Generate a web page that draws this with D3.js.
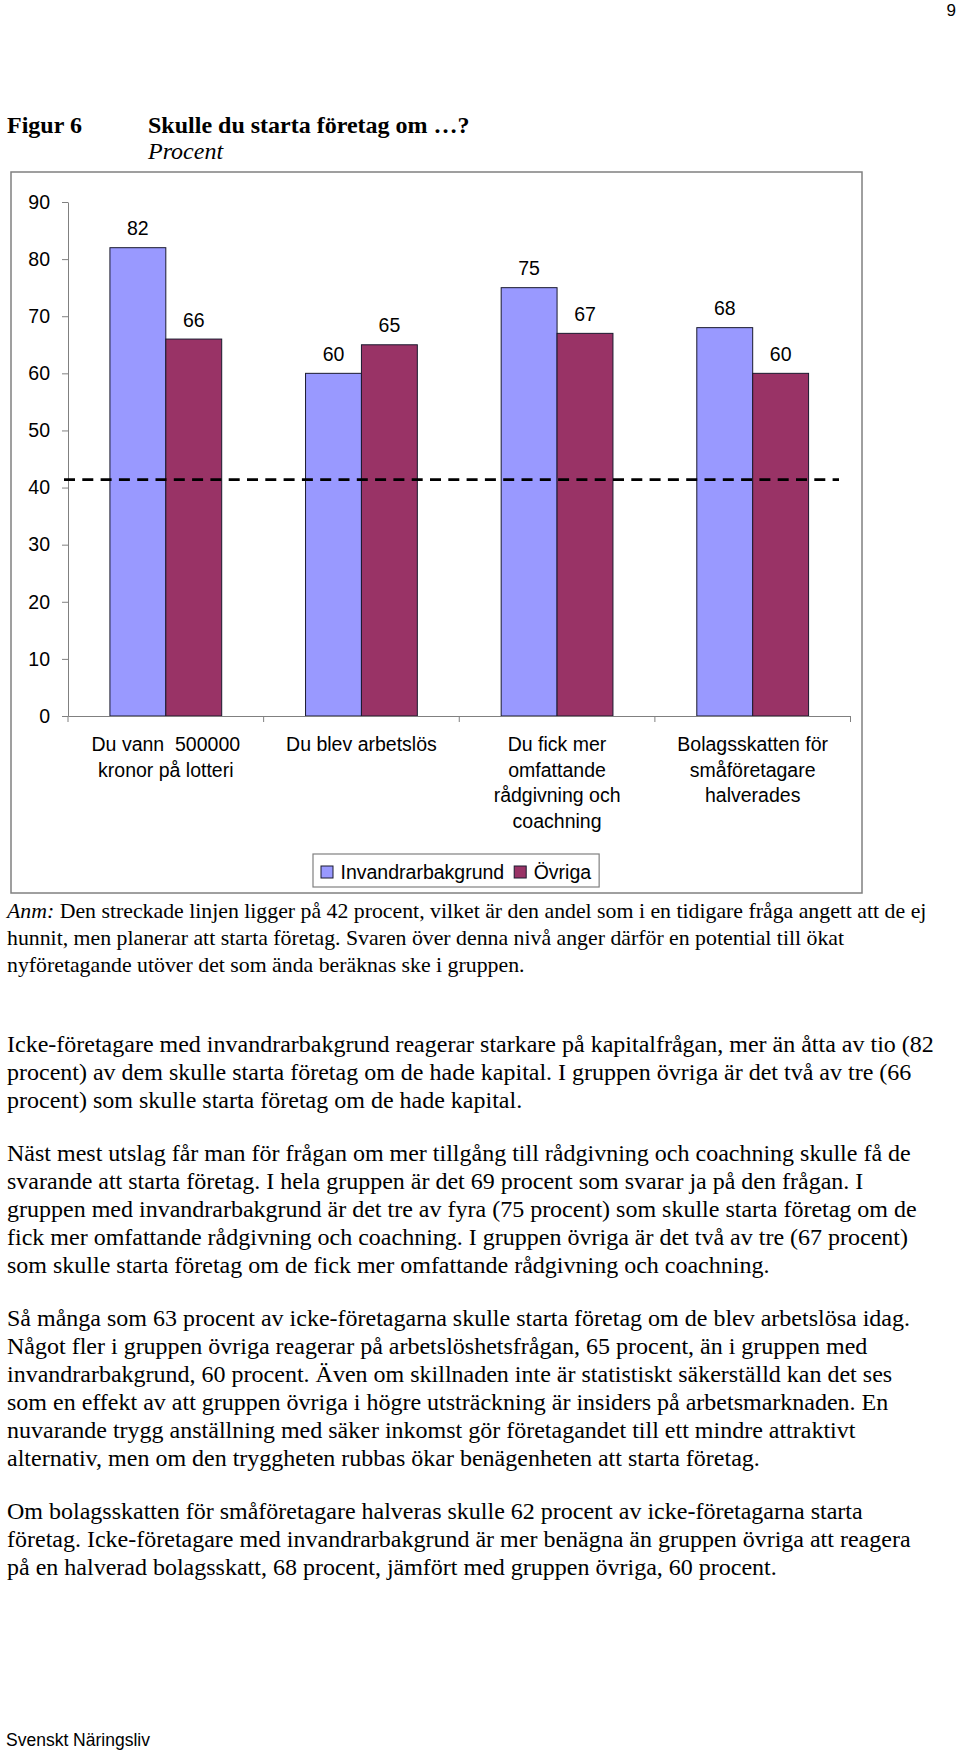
<!DOCTYPE html>
<html>
<head>
<meta charset="utf-8">
<script src="https://cdn.jsdelivr.net/npm/d3@7/dist/d3.min.js"></script>
<style>
  body { margin: 0; background: #fff; }
  svg { display: block; }
  .serif { font-family: "Liberation Serif", "Times New Roman", serif; fill: #000; }
  .sans { font-family: "Liberation Sans", Arial, sans-serif; fill: #000; }
  .axis path, .axis line { stroke: #808080; }
  .axis text { font-family: "Liberation Sans", Arial, sans-serif; font-size: 19.5px; fill: #000; }
</style>
</head>
<body>
<script>
//chart data
var categories = ["Du vann  500000|kronor på lotteri", "Du blev arbetslös",
                  "Du fick mer|omfattande|rådgivning och|coachning",
                  "Bolagsskatten för|småföretagare|halverades"];
var series = ["Invandrarbakgrund", "Övriga"];
var invandrarValues = [82, 60, 75, 68];
var ovrigaValues = [66, 65, 67, 60];
var yTicks = [0, 10, 20, 30, 40, 50, 60, 70, 80, 90];
var refLevel = 41.4; //dashed line, drawn a bit under the 42 in the note
var colors = ["#9999FF", "#993366"];

//text of the page
var anmLines = [
    "Den streckade linjen ligger på 42 procent, vilket är den andel som i en tidigare fråga angett att de ej",
    "hunnit, men planerar att starta företag. Svaren över denna nivå anger därför en potential till ökat",
    "nyföretagande utöver det som ända beräknas ske i gruppen."
];
var paragraphs = [
    ["Icke-företagare med invandrarbakgrund reagerar starkare på kapitalfrågan, mer än åtta av tio (82",
     "procent) av dem skulle starta företag om de hade kapital. I gruppen övriga är det två av tre (66",
     "procent) som skulle starta företag om de hade kapital."],
    ["Näst mest utslag får man för frågan om mer tillgång till rådgivning och coachning skulle få de",
     "svarande att starta företag. I hela gruppen är det 69 procent som svarar ja på den frågan. I",
     "gruppen med invandrarbakgrund är det tre av fyra (75 procent) som skulle starta företag om de",
     "fick mer omfattande rådgivning och coachning. I gruppen övriga är det två av tre (67 procent)",
     "som skulle starta företag om de fick mer omfattande rådgivning och coachning."],
    ["Så många som 63 procent av icke-företagarna skulle starta företag om de blev arbetslösa idag.",
     "Något fler i gruppen övriga reagerar på arbetslöshetsfrågan, 65 procent, än i gruppen med",
     "invandrarbakgrund, 60 procent. Även om skillnaden inte är statistiskt säkerställd kan det ses",
     "som en effekt av att gruppen övriga i högre utsträckning är insiders på arbetsmarknaden. En",
     "nuvarande trygg anställning med säker inkomst gör företagandet till ett mindre attraktivt",
     "alternativ, men om den tryggheten rubbas ökar benägenheten att starta företag."],
    ["Om bolagsskatten för småföretagare halveras skulle 62 procent av icke-företagarna starta",
     "företag. Icke-företagare med invandrarbakgrund är mer benägna än gruppen övriga att reagera",
     "på en halverad bolagsskatt, 68 procent, jämfört med gruppen övriga, 60 procent."]
];

var w = 960, h = 1752;

var svg = d3.select("body").append("svg")
    .attr("width", w)
    .attr("height", h);

svg.append("rect").attr("width", w).attr("height", h).attr("fill", "#fff");

//page number
svg.append("text").attr("class", "sans")
    .attr("x", 956).attr("y", 16)
    .attr("text-anchor", "end")
    .style("font-size", "17px")
    .text("9");

//figure heading
svg.append("text").attr("class", "serif")
    .attr("x", 7).attr("y", 133)
    .style("font-size", "24px").style("font-weight", "bold")
    .text("Figur 6");
svg.append("text").attr("class", "serif")
    .attr("x", 148).attr("y", 133)
    .style("font-size", "24px").style("font-weight", "bold")
    .text("Skulle du starta företag om …?");
svg.append("text").attr("class", "serif")
    .attr("x", 148).attr("y", 159)
    .style("font-size", "24px").style("font-style", "italic")
    .text("Procent");

//chart frame
svg.append("rect")
    .attr("x", 11).attr("y", 172)
    .attr("width", 851).attr("height", 721)
    .attr("fill", "#fff")
    .attr("stroke", "#808080")
    .attr("stroke-width", 1.5);

//scales
var x0 = d3.scaleBand()
    .domain(categories)
    .range([68, 850.5])
    .padding(0);

var x1 = d3.scaleBand()
    .domain(series)
    .range([0, x0.bandwidth()])
    .paddingInner(0)
    .paddingOuter(0.75);

var y = d3.scaleLinear()
    .domain([0, 90])
    .range([716, 202]);

//rows of bars, one per category
var rows = categories.map(function(c, i){
    return [
        {cat: c, s: series[0], v: invandrarValues[i]},
        {cat: c, s: series[1], v: ovrigaValues[i]}
    ];
});

var groups = svg.selectAll(".group")
    .data(rows)
    .enter()
    .append("g")
    .attr("class", "group")
    .attr("transform", function(d){ return "translate(" + x0(d[0].cat) + ",0)"; });

groups.selectAll("rect")
    .data(function(d){ return d; })
    .enter()
    .append("rect")
    .attr("x", function(d){ return x1(d.s); })
    .attr("y", function(d){ return y(d.v); })
    .attr("width", x1.bandwidth())
    .attr("height", function(d){ return y(0) - y(d.v); })
    .attr("fill", function(d, i){ return colors[i]; })
    .attr("stroke", "#1a1a2e")
    .attr("stroke-width", 1);

//value labels
groups.selectAll(".val")
    .data(function(d){ return d; })
    .enter()
    .append("text")
    .attr("class", "val sans")
    .attr("x", function(d){ return x1(d.s) + x1.bandwidth() / 2; })
    .attr("y", function(d){ return y(d.v) - 12.5; })
    .attr("text-anchor", "middle")
    .style("font-size", "19.5px")
    .text(function(d){ return d.v; });

//y axis
svg.append("g")
    .attr("class", "axis")
    .attr("transform", "translate(68,0)")
    .call(d3.axisLeft(y).tickValues(yTicks).tickSize(6).tickSizeOuter(0).tickPadding(12));

//x axis line with ticks between the categories
svg.append("g")
    .attr("class", "axis")
    .attr("transform", "translate(0," + y(0) + ")")
    .call(d3.axisBottom(x0).tickSize(0).tickSizeOuter(0).tickFormat(""));

var bounds = categories.map(function(c){ return x0(c); }).concat([x0.range()[1]]);
svg.selectAll(".xtick")
    .data(bounds)
    .enter()
    .append("line")
    .attr("class", "xtick")
    .attr("x1", function(d){ return d; })
    .attr("x2", function(d){ return d; })
    .attr("y1", y(0))
    .attr("y2", y(0) + 6)
    .attr("stroke", "#808080");

//category labels
var catLabels = svg.selectAll(".cat")
    .data(categories)
    .enter()
    .append("text")
    .attr("class", "cat sans")
    .attr("text-anchor", "middle")
    .style("font-size", "19.5px")
    .attr("y", 751);

catLabels.selectAll("tspan")
    .data(function(d){ return d.split("|").map(function(t){ return {t: t, c: d}; }); })
    .enter()
    .append("tspan")
    .attr("x", function(d){ return x0(d.c) + x0.bandwidth() / 2; })
    .attr("dy", function(d, i){ return i === 0 ? 0 : 25.7; })
    .style("white-space", "pre")
    .text(function(d){ return d.t; });

//dashed reference line
svg.append("line")
    .attr("x1", 64).attr("x2", 839)
    .attr("y1", y(refLevel)).attr("y2", y(refLevel))
    .attr("stroke", "#000")
    .attr("stroke-width", 2.7)
    .attr("stroke-dasharray", "11,7.3");

//legend
var legend = svg.append("g").attr("transform", "translate(313,854)");
var legendBox = legend.append("rect")
    .attr("height", 33)
    .attr("fill", "#fff")
    .attr("stroke", "#808080")
    .attr("stroke-width", 1.2);

var lx = 8;
series.forEach(function(s, i){
    legend.append("rect")
        .attr("x", lx).attr("y", 12)
        .attr("width", 12).attr("height", 12)
        .attr("fill", colors[i])
        .attr("stroke", "#1a1a2e");
    var t = legend.append("text")
        .attr("class", "sans")
        .attr("x", lx + 19.5).attr("y", 25)
        .style("font-size", "19.5px")
        .text(s);
    lx = lx + 19.5 + t.node().getComputedTextLength() + 10;
});
legendBox.attr("width", lx - 2);

//note and body text
var anm = svg.append("text").attr("class", "serif")
    .attr("y", 918)
    .style("font-size", "21.8px");
anm.selectAll("tspan")
    .data(anmLines)
    .enter()
    .append("tspan")
    .attr("x", 7)
    .attr("dy", function(d, i){ return i === 0 ? 0 : 27; })
    .each(function(d, i){
        var sel = d3.select(this);
        if (i === 0) {
            sel.append("tspan").style("font-style", "italic").text("Anm:");
            sel.append("tspan").text(" " + d);
        } else {
            sel.text(d);
        }
    });

var lineH = 28, paraGap = 53;
var yStart = 1052;
paragraphs.forEach(function(p){
    var t = svg.append("text").attr("class", "serif")
        .attr("y", yStart)
        .style("font-size", "24px");
    t.selectAll("tspan")
        .data(p)
        .enter()
        .append("tspan")
        .attr("x", 7)
        .attr("dy", function(d, i){ return i === 0 ? 0 : lineH; })
        .text(function(d){ return d; });
    yStart = yStart + (p.length - 1) * lineH + paraGap;
});

//footer
svg.append("text").attr("class", "sans")
    .attr("x", 6).attr("y", 1746)
    .style("font-size", "17.5px")
    .text("Svenskt Näringsliv");
</script>
</body>
</html>
